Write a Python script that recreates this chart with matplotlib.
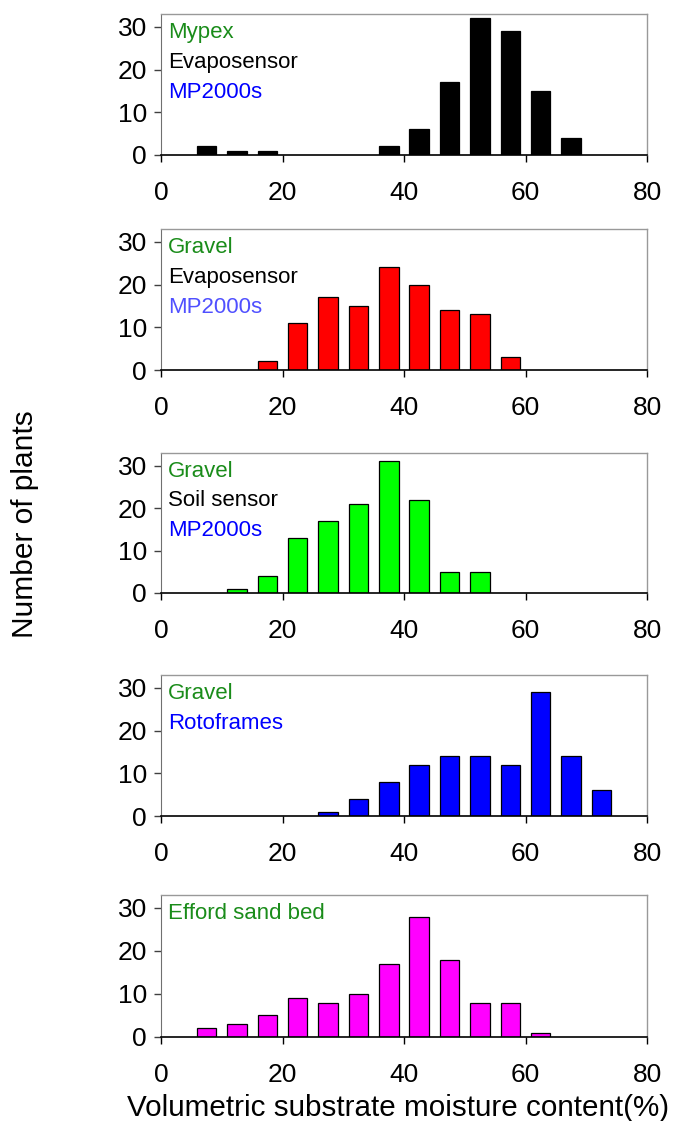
import matplotlib
matplotlib.use("Agg")
import matplotlib.pyplot as plt
import numpy as np

plt.rcParams['font.family'] = ['Liberation Sans', 'DejaVu Sans']

# bin centres of the moisture classes (5 % wide)
bin_centres = [2.5, 7.5, 12.5, 17.5, 22.5, 27.5, 32.5, 37.5,
               42.5, 47.5, 52.5, 57.5, 62.5, 67.5, 72.5, 77.5]

# number of plants in each class
mypex_evapo = [0, 2, 1, 1, 0, 0, 0, 2, 6, 17, 32, 29, 15, 4, 0, 0]
gravel_evapo = [0, 0, 0, 2, 11, 17, 15, 24, 20, 14, 13, 3, 0, 0, 0, 0]
gravel_soil = [0, 0, 1, 4, 13, 17, 21, 31, 22, 5, 5, 0, 0, 0, 0, 0]
gravel_roto = [0, 0, 0, 0, 0, 1, 4, 8, 12, 14, 14, 12, 29, 14, 6, 0]
efford_sand = [0, 2, 3, 5, 9, 8, 10, 17, 28, 18, 8, 8, 1, 0, 0, 0]

x_ticks = [0, 20, 40, 60, 80]
y_ticks = [0, 10, 20, 30]

green = '#1a8c1a'
panels = [
    (mypex_evapo, 'black', [('Mypex', green), ('Evaposensor', 'black'), ('MP2000s', '#0000ff')]),
    (gravel_evapo, '#ff0000', [('Gravel', green), ('Evaposensor', 'black'), ('MP2000s', '#5050ff')]),
    (gravel_soil, '#00ff00', [('Gravel', green), ('Soil sensor', 'black'), ('MP2000s', '#0000ff')]),
    (gravel_roto, '#0000ff', [('Gravel', green), ('Rotoframes', '#0000ff')]),
    (efford_sand, '#ff00ff', [('Efford sand bed', green)]),
]

# pixel boxes (top, bottom) of each panel
W, H = 678, 1121
boxes = [(14, 155), (229, 370), (453, 593), (675, 816), (895, 1037)]
left_px, right_px = 161, 647

fig = plt.figure(figsize=(W / 100, H / 100), dpi=100)

for (counts, col, labels), (top, bot) in zip(panels, boxes):
    ax = fig.add_axes([left_px / W, 1 - bot / H, (right_px - left_px) / W, (bot - top) / H])
    c = np.array(counts)
    xs = np.array(bin_centres)
    keep = c > 0
    ax.bar(xs[keep], c[keep], width=3.2, color=col, edgecolor='black', linewidth=0.9)
    ax.set_xlim(0, 80)
    ax.set_ylim(0, 33)
    ax.set_xticks(x_ticks)
    ax.set_yticks(y_ticks)
    ax.tick_params(axis='x', direction='out', length=5, width=1, pad=14, labelsize=19)
    ax.tick_params(axis='y', direction='out', length=5, width=1, pad=5, labelsize=19,
                   color='#404040')
    for s in ['top', 'right']:
        ax.spines[s].set_color('#999999')
        ax.spines[s].set_linewidth(1)
    ax.spines['left'].set_color('#707070')
    ax.spines['bottom'].set_color('black')
    ax.spines['bottom'].set_linewidth(1.2)

    # panel description in the upper left corner
    y0 = 0.87
    for txt, tc in labels:
        ax.text(0.015, y0, txt, color=tc, fontsize=16, transform=ax.transAxes,
                ha='left', va='center')
        y0 -= 0.212

fig.text(25 / W, 1 - 524 / H, 'Number of plants', rotation=90, fontsize=21.5,
         ha='center', va='center')
fig.text(127 / W, 1 - 1116 / H, 'Volumetric substrate moisture content(%)', fontsize=21.3,
         ha='left', va='baseline')

fig.savefig('out.png', dpi=100)
